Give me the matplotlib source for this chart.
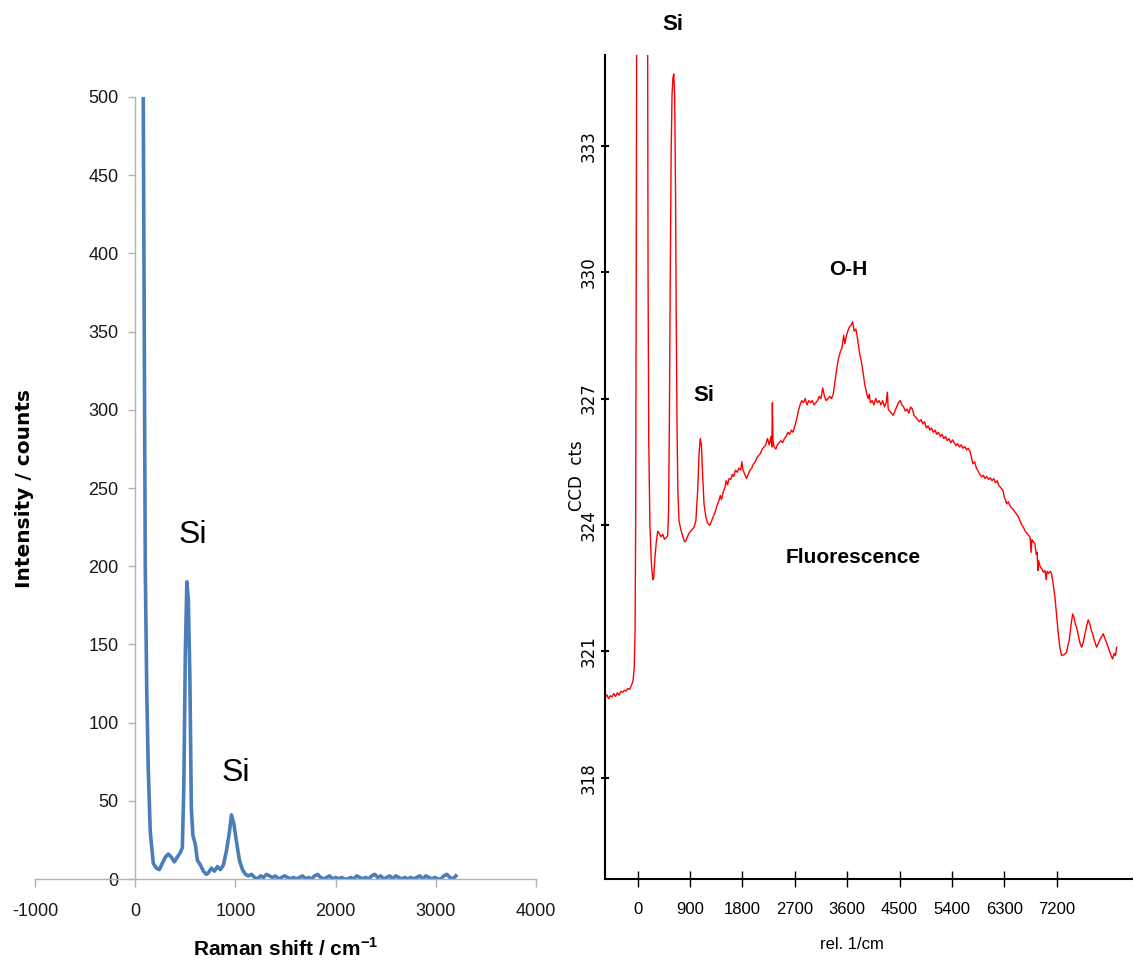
import matplotlib
matplotlib.use("Agg")
import matplotlib.pyplot as plt

plt.rcParams['axes.unicode_minus'] = False
plt.rcParams['mathtext.fontset'] = 'custom'
plt.rcParams['mathtext.rm'] = 'Liberation Sans'
plt.rcParams['mathtext.bf'] = 'Liberation Sans:bold'

NARROW = ['Liberation Sans Narrow', 'Liberation Sans', 'DejaVu Sans']

# ---- left panel: Raman spectrum (counts) ----
raman_x = [80, 90, 100, 115, 130, 150, 180, 210, 240, 270, 300, 330, 360, 390, 420,
           450, 470, 485, 500, 515, 530, 545, 560, 575, 600, 620, 650, 680, 710, 730,
           760, 790, 820, 850, 880, 910, 940, 960, 985, 1010, 1040, 1070, 1100,
           1130, 1160, 1190, 1220, 1250, 1280, 1310, 1340, 1370, 1400, 1430, 1460,
           1490, 1520, 1550, 1580, 1610, 1640, 1670, 1700, 1730, 1760, 1790, 1820,
           1850, 1880, 1910, 1940, 1970, 2000, 2030, 2060, 2090, 2120, 2150, 2180,
           2210, 2240, 2270, 2300, 2330, 2360, 2390, 2420, 2450, 2480, 2510, 2540,
           2570, 2600, 2630, 2660, 2690, 2720, 2750, 2780, 2810, 2840, 2870, 2900,
           2930, 2960, 2990, 3020, 3050, 3080, 3110, 3140, 3170, 3200]
raman_y = [500, 350, 200, 120, 70, 30, 10, 7, 6, 10, 14, 16, 14, 11, 14,
           17, 20, 60, 145, 190, 178, 130, 45, 28, 22, 12, 9, 5, 3, 4,
           7, 5, 8, 6, 9, 18, 30, 41, 35, 24, 12, 6, 3,
           2, 3, 1, 0, 2, 1, 3, 2, 1, 2, 0, 1,
           2, 1, 0, 1, 0, 1, 2, 0, 1, 0, 2, 3,
           1, 0, 1, 2, 0, 1, 0, 1, 0, 0, 1, 0,
           2, 1, 0, 1, 0, 2, 3, 1, 2, 0, 1, 2,
           0, 2, 1, 0, 1, 0, 1, 0, 1, 2, 0, 2,
           1, 0, 1, 0, 0, 2, 3, 1, 0, 2]
raman_xticks = [-1000, 0, 1000, 2000, 3000, 4000]
raman_yticks = [0, 50, 100, 150, 200, 250, 300, 350, 400, 450, 500]

# ---- right panel: CCD spectrum with fluorescence ----
ccd_x = [-560, -530, -500, -470, -440, -410, -380, -350, -320, -290, -260, -230, -200,
         -170, -140, -110, -80, -60, -45, -35, -25, -15, 0, 150, 168, 178, 190, 210,
         235, 260, 275, 295, 320, 345, 370, 400, 430, 460, 490, 515, 530, 545, 560,
         575, 590, 605, 620, 635, 650, 662, 675, 690, 710, 740, 770, 800, 820, 850,
         880, 910, 940, 970, 1000, 1030, 1055, 1075, 1095, 1115, 1140, 1170, 1200,
         1240, 1270, 1300, 1330, 1360, 1390, 1420, 1440, 1470, 1500, 1520, 1545,
         1570, 1600, 1625, 1650, 1680, 1710, 1740, 1770, 1790, 1810, 1840, 1870,
         1900, 1930, 1960, 1990, 2020, 2050, 2080, 2110, 2140, 2170, 2200, 2230,
         2260, 2290, 2305, 2315, 2325, 2345, 2375, 2400, 2430, 2460, 2490, 2520,
         2550, 2580, 2610, 2640, 2670, 2700, 2730, 2760, 2790, 2820, 2850, 2880,
         2910, 2940, 2970, 3000, 3030, 3060, 3090, 3120, 3150, 3180, 3210, 3240,
         3270, 3300, 3330, 3360, 3390, 3420, 3450, 3480, 3510, 3540, 3560, 3580,
         3610, 3640, 3670, 3695, 3720, 3750, 3780, 3810, 3840, 3870, 3900, 3930,
         3960, 3980, 4000, 4030, 4060, 4090, 4120, 4150, 4180, 4210, 4240, 4270,
         4290, 4305, 4330, 4360, 4390, 4420, 4450, 4480, 4510, 4540, 4570, 4600,
         4630, 4660, 4690, 4720, 4750, 4780, 4810, 4840, 4870, 4900, 4930, 4960,
         4990, 5020, 5050, 5080, 5110, 5140, 5170, 5200, 5230, 5260, 5290, 5320,
         5350, 5380, 5410, 5440, 5470, 5500, 5530, 5560, 5590, 5620, 5650, 5680,
         5710, 5735, 5760, 5790, 5820, 5850, 5880, 5910, 5940, 5970, 6000, 6030,
         6060, 6090, 6120, 6150, 6180, 6200, 6230, 6260, 6282, 6300, 6320, 6340,
         6370, 6400, 6430, 6460, 6490, 6512, 6540, 6570, 6600, 6626, 6660, 6690,
         6720, 6745, 6760, 6775, 6800, 6826, 6850, 6865, 6878, 6890, 6920, 6950,
         6970, 7000, 7020, 7035, 7060, 7090, 7113, 7140, 7170, 7200, 7227, 7255,
         7285, 7320, 7350, 7371, 7395, 7416, 7445, 7474, 7500, 7520, 7543, 7570,
         7600, 7629, 7655, 7686, 7715, 7742, 7770, 7795, 7818, 7850, 7887, 7920,
         7950, 7975, 8000, 8030, 8060, 8086, 8110, 8135, 8161, 8185, 8210, 8230]
ccd_y = [319.90, 319.97, 319.88, 319.95, 319.92, 320.00, 319.93, 320.02, 319.96, 320.05,
         320.03, 320.08, 320.06, 320.12, 320.10, 320.18, 320.30, 320.60, 321.50, 324.0,
         330.0, 338.0, 345.0, 345.0, 338.0, 330.0, 326.0, 324.0, 323.1, 322.7, 322.75,
         323.2, 323.6, 323.85, 323.8, 323.72, 323.78, 323.66, 323.7, 323.75, 324.3,
         326.5, 330.0, 332.8, 334.2, 334.6, 334.7, 334.2, 332.0, 329.0, 326.5, 324.8,
         324.1, 323.9, 323.75, 323.62, 323.6, 323.7, 323.8, 323.85, 323.9, 323.95,
         324.1, 324.8, 325.7, 326.05, 325.9, 325.2, 324.5, 324.2, 324.05, 323.99,
         324.1, 324.2, 324.3, 324.45, 324.55, 324.7, 324.6, 324.78, 324.9, 325.05,
         324.95, 325.1, 325.08, 325.2, 325.15, 325.3, 325.25, 325.35, 325.3, 325.5,
         325.3, 325.2, 325.1, 325.2, 325.3, 325.35, 325.45, 325.5, 325.6, 325.65,
         325.7, 325.8, 325.85, 325.9, 326.05, 325.9, 326.1, 325.85, 326.9, 326.0,
         325.85, 325.8, 325.9, 325.95, 326.0, 325.95, 326.05, 326.1, 326.2, 326.15,
         326.25, 326.2, 326.35, 326.5, 326.7, 326.85, 326.95, 326.9, 327.0, 326.85,
         326.95, 326.9, 326.95, 326.85, 326.9, 326.95, 327.05, 327.0, 327.25, 327.05,
         326.95, 327.0, 327.05, 327.0, 327.1, 327.4, 327.7, 327.95, 328.1, 328.2,
         328.5, 328.3, 328.45, 328.6, 328.7, 328.75, 328.82, 328.6, 328.65, 328.4,
         328.1, 327.9, 327.65, 327.35, 327.15, 327.0, 327.1, 326.9, 326.95, 326.85,
         327.0, 326.9, 326.95, 326.85, 326.95, 326.8, 326.9, 327.15, 326.75, 326.7,
         326.65, 326.6, 326.7, 326.8, 326.9, 326.95, 326.85, 326.8, 326.7, 326.75,
         326.65, 326.8, 326.75, 326.6, 326.55, 326.5, 326.45, 326.5, 326.4, 326.45,
         326.3, 326.35, 326.25, 326.3, 326.2, 326.25, 326.15, 326.2, 326.1, 326.15,
         326.05, 326.1, 326.0, 326.05, 325.95, 326.02, 325.95, 325.88, 325.93, 325.85,
         325.9, 325.82, 325.86, 325.78, 325.82, 325.75, 325.6, 325.45, 325.5, 325.35,
         325.28, 325.2, 325.14, 325.18, 325.1, 325.15, 325.08, 325.12, 325.05, 325.1,
         325.0, 325.05, 324.95, 324.9, 324.85, 324.8, 324.65, 324.6, 324.5, 324.55,
         324.45, 324.4, 324.35, 324.3, 324.25, 324.2, 324.1, 324.0, 323.95, 323.85,
         323.8, 323.75, 323.7, 323.35, 323.65, 323.6, 323.55, 323.3, 323.35, 322.92,
         323.15, 323.0, 322.95, 322.88, 322.92, 322.7, 322.9, 322.85, 322.9, 322.84,
         322.6, 322.29, 321.85, 321.42, 321.1, 320.9, 320.92, 320.95, 320.98, 321.15,
         321.26, 321.6, 321.89, 321.8, 321.65, 321.57, 321.4, 321.2, 321.1, 321.2,
         321.42, 321.6, 321.75, 321.65, 321.5, 321.42, 321.25, 321.1, 321.2, 321.3,
         321.35, 321.42, 321.3, 321.2, 321.1, 321.0, 320.9, 320.82, 320.95, 320.9,
         321.1]
ccd_xticks = [0, 900, 1800, 2700, 3600, 4500, 5400, 6300, 7200]
ccd_yticks = [318, 321, 324, 327, 330, 333]

fig = plt.figure(figsize=(11.34, 9.65), dpi=100)

# left chart
ax1 = fig.add_axes([0.0309, 0.0891, 0.4418, 0.8104])
ax1.plot(raman_x, raman_y, color='#4a7ebb', lw=2.6, solid_joinstyle='round')
ax1.set_xlim(-1000, 4000)
ax1.set_ylim(0, 500)
ax1.set_xticks(raman_xticks)
ax1.set_yticks(raman_yticks)
for s in ['top', 'right']:
    ax1.spines[s].set_visible(False)
ax1.spines['left'].set_position(('data', 0))
for s in ['left', 'bottom']:
    ax1.spines[s].set_color('#b3b3b3')
    ax1.spines[s].set_linewidth(1.0)
ax1.tick_params(axis='y', direction='out', length=5, width=1, color='#b3b3b3',
                pad=7, labelsize=13, labelcolor='#1a1a1a')
ax1.tick_params(axis='x', direction='out', length=6, width=1, color='#b3b3b3',
                pad=11, labelsize=13, labelcolor='#1a1a1a')
for lab in ax1.get_xticklabels() + ax1.get_yticklabels():
    lab.set_fontfamily(NARROW)
ax1.text(575, 220, 'Si', fontsize=23, family=NARROW, ha='center', va='center')
ax1.text(1000, 68, 'Si', fontsize=23, family=NARROW, ha='center', va='center')
ax1.set_xlabel(r'Raman shift / cm$^{\mathbf{-1}}$', fontsize=15, fontweight='bold',
               family=NARROW)
ax1.xaxis.set_label_coords(0.5, -0.075)
ax1.set_ylabel('Intensity / counts', fontsize=14.5, fontweight='bold', family='DejaVu Sans')
ax1.yaxis.set_label_coords(-0.003, 0.5)

# right chart
ax2 = fig.add_axes([0.5335, 0.0891, 0.4647, 0.8539])
ax2.plot(ccd_x, ccd_y, color='#ff0000', lw=1.0)
ax2.set_xlim(-562, 8494)
ax2.set_ylim(315.6, 335.15)
ax2.set_xticks(ccd_xticks)
ax2.set_yticks(ccd_yticks)
for s in ['top', 'right']:
    ax2.spines[s].set_visible(False)
for s in ['left', 'bottom']:
    ax2.spines[s].set_linewidth(1.5)
ax2.tick_params(axis='x', direction='inout', length=11, width=1, pad=11, labelsize=12)
ax2.tick_params(axis='y', direction='inout', length=6, width=1.5, pad=2, labelsize=12,
                labelrotation=90)
for lab in ax2.get_xticklabels():
    lab.set_fontfamily(NARROW)
for lab in ax2.get_yticklabels():
    lab.set_va('center')
ax2.set_xlabel('rel. 1/cm', fontsize=12, family=NARROW)
ax2.xaxis.set_label_coords(0.469, -0.07)
ax2.set_ylabel('CCD  cts', fontsize=12, family='DejaVu Sans')
ax2.yaxis.set_label_coords(-0.036, 0.49)

bold = dict(fontweight='bold', family=NARROW, ha='center', va='center', clip_on=False)
ax2.text(598, 335.87, 'Si', fontsize=16, **bold)
ax2.text(1139, 327.08, 'Si', fontsize=16, **bold)
ax2.text(3613, 330.05, 'O-H', fontsize=15, **bold)
ax2.text(3700, 323.23, 'Fluorescence', fontsize=15, **bold)

fig.savefig('out.png', dpi=100)
